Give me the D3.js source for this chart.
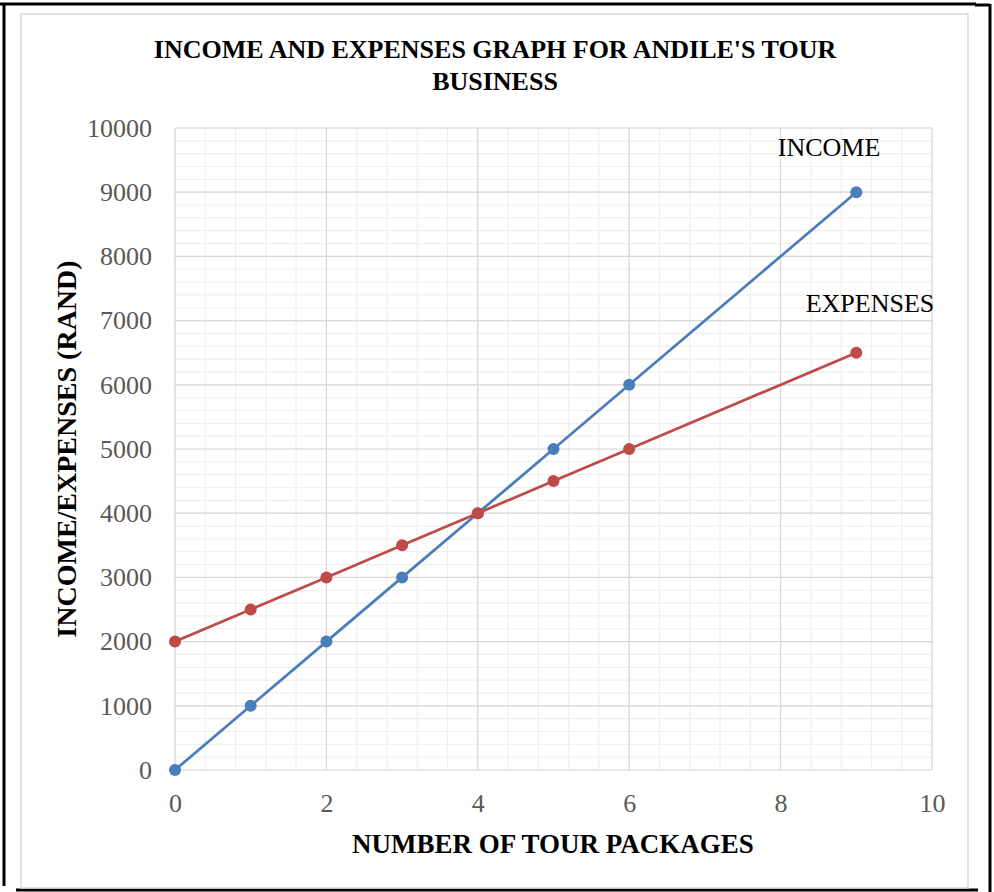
<html><head><title>Income and Expenses</title>
<style>
  body { margin: 0; background: #fff; }
  svg text { font-family: 'Liberation Serif', 'Times New Roman', serif; }
</style>
</head>
<body>
<svg id="chart" width="994" height="892"></svg>
<script src="https://cdnjs.cloudflare.com/ajax/libs/d3/7.8.5/d3.min.js"></script>
<script>
  const packages = [0, 1, 2, 3, 4, 5, 6, 9];
  const income = [0, 1000, 2000, 3000, 4000, 5000, 6000, 9000];
  const expenses = [2000, 2500, 3000, 3500, 4000, 4500, 5000, 6500];
  const xTicks = [0, 2, 4, 6, 8, 10];
  const yTicks = [0, 1000, 2000, 3000, 4000, 5000, 6000, 7000, 8000, 9000, 10000];

  const svg = d3.select("#chart");

  // outer frame (black lines) and chart area border
  const frame = svg.append("g").attr("stroke", "#000").attr("stroke-width", 3);
  frame.append("line").attr("x1", 0).attr("y1", 4).attr("x2", 976).attr("y2", 4);
  frame.append("line").attr("x1", 975).attr("y1", 5).attr("x2", 990).attr("y2", 5);
  frame.append("line").attr("x1", 4).attr("y1", 3).attr("x2", 4).attr("y2", 886);
  frame.append("line").attr("x1", 990).attr("y1", 4).attr("x2", 990).attr("y2", 892);
  frame.append("line").attr("x1", 16).attr("y1", 890).attr("x2", 978).attr("y2", 890);

  svg.append("rect")
    .attr("x", 21).attr("y", 14).attr("width", 947).attr("height", 874)
    .attr("fill", "none").attr("stroke", "#d9d9d9").attr("stroke-width", 1.5);

  const x = d3.scaleLinear().domain([0, 10]).range([175, 932]);
  const y = d3.scaleLinear().domain([0, 10000]).range([770, 128]);

  // minor grid
  const g = svg.append("g");
  g.selectAll("line.vminor").data(d3.range(0, 10.01, 0.4)).enter().append("line")
    .attr("x1", d => x(d)).attr("x2", d => x(d)).attr("y1", y(0)).attr("y2", y(10000))
    .attr("stroke", "#efefef").attr("stroke-width", 1.2);
  g.selectAll("line.hminor").data(d3.range(0, 10001, 200)).enter().append("line")
    .attr("y1", d => y(d)).attr("y2", d => y(d)).attr("x1", x(0)).attr("x2", x(10))
    .attr("stroke", "#efefef").attr("stroke-width", 1.2);
  // major grid
  g.selectAll("line.vmajor").data(xTicks).enter().append("line")
    .attr("x1", d => x(d)).attr("x2", d => x(d)).attr("y1", y(0)).attr("y2", y(10000))
    .attr("stroke", "#d9d9d9").attr("stroke-width", 1.2);
  g.selectAll("line.hmajor").data(yTicks).enter().append("line")
    .attr("y1", d => y(d)).attr("y2", d => y(d)).attr("x1", x(0)).attr("x2", x(10))
    .attr("stroke", "#d9d9d9").attr("stroke-width", 1.2);

  // axes (labels only)
  const xAxis = svg.append("g").attr("transform", `translate(0,${y(0)})`)
    .call(d3.axisBottom(x).tickValues(xTicks).tickFormat(d3.format("d")).tickSize(0).tickPadding(24));
  const yAxis = svg.append("g").attr("transform", `translate(${x(0)},0)`)
    .call(d3.axisLeft(y).tickValues(yTicks).tickFormat(d3.format("d")).tickSize(0).tickPadding(23));
  [xAxis, yAxis].forEach(a => {
    a.select(".domain").remove();
    a.selectAll("text").attr("font-family", "'Liberation Serif', serif")
      .attr("font-size", 26).attr("fill", "#595959");
  });
  xAxis.selectAll("text").attr("dy", "0.71em");

  // series
  const series = [
    { name: "INCOME", values: income, color: "#4a7ebb" },
    { name: "EXPENSES", values: expenses, color: "#be4b48" }
  ];
  const line = d3.line().x((d, i) => x(packages[i])).y(d => y(d));
  series.forEach(s => {
    svg.append("path").datum(s.values)
      .attr("d", line).attr("fill", "none")
      .attr("stroke", s.color).attr("stroke-width", 2.75);
    svg.selectAll(null).data(s.values).enter().append("circle")
      .attr("cx", (d, i) => x(packages[i])).attr("cy", d => y(d))
      .attr("r", 6).attr("fill", s.color);
  });

  // series labels
  svg.append("text").attr("x", 829).attr("y", 156).attr("text-anchor", "middle")
    .attr("font-size", 26).attr("fill", "#000").text("INCOME");
  svg.append("text").attr("x", 870).attr("y", 312).attr("text-anchor", "middle")
    .attr("font-size", 26).attr("fill", "#000").text("EXPENSES");

  // titles
  svg.append("text").attr("x", 495).attr("y", 58).attr("text-anchor", "middle")
    .attr("font-size", 26).attr("font-weight", "bold")
    .text("INCOME AND EXPENSES GRAPH FOR ANDILE'S TOUR");
  svg.append("text").attr("x", 495).attr("y", 90).attr("text-anchor", "middle")
    .attr("font-size", 26).attr("font-weight", "bold").text("BUSINESS");

  svg.append("text").attr("x", 553).attr("y", 853).attr("text-anchor", "middle")
    .attr("font-size", 27).attr("font-weight", "bold").text("NUMBER OF TOUR PACKAGES");

  svg.append("text").attr("transform", "translate(76,449) rotate(-90)")
    .attr("text-anchor", "middle")
    .attr("font-size", 28).attr("font-weight", "bold").text("INCOME/EXPENSES (RAND)");
</script>
</body></html>
